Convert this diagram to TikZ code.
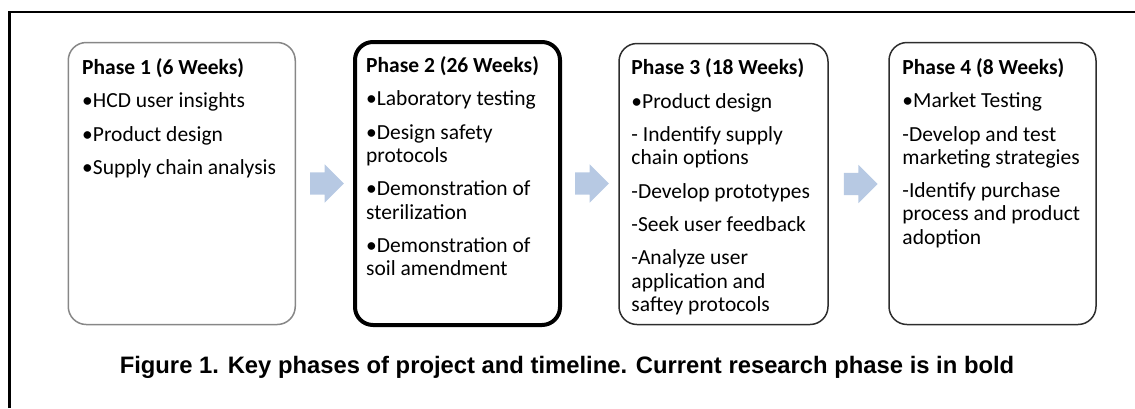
\documentclass[tikz,border=0pt]{standalone}
\usepackage{fontspec}
\setmainfont{Carlito}
\newfontfamily\capfont{Liberation Sans}
\usetikzlibrary{positioning,shapes.arrows}
\definecolor{arrowblue}{RGB}{183,201,227}
\definecolor{boxgray}{RGB}{135,135,135}
\definecolor{boxdark}{RGB}{45,45,45}
\tikzset{
	phasebox/.style={draw=boxdark, rounded corners=18pt, line width=1.5pt},
	phasetext/.style={inner sep=0pt, align=left, font=\fontsize{21.5}{23.3}\selectfont},
	blockarrow/.style={single arrow, fill=arrowblue, draw=none, inner sep=11pt,
		minimum height=32pt, single arrow head extend=8pt, single arrow head indent=0pt}
}

\begin{document}
\begin{tikzpicture}[x=1pt,y=-1pt]
	\useasboundingbox (0,0) rectangle (1135,408);
	\draw[line width=2.5pt] (9.5,408) -- (9.5,12) -- (1135,12);
	% phase boxes
	\node[phasebox, draw=boxgray, minimum width=227, minimum height=282] (p1) at (181.75,183.5) {};
	\node[phasebox, draw=black, line width=4pt, minimum width=205, minimum height=283] (p2) at (457.5,183.5) {};
	\node[phasebox, minimum width=209, minimum height=281] (p3) at (723.5,184) {};
	\node[phasebox, minimum width=207, minimum height=282] (p4) at (992.5,183.5) {};
	% texts
	\node[phasetext, below right=16.5pt and 14.5pt of p1.north west] (t1)
		{\textbf{Phase 1 (6 Weeks)}\\[10pt]
		\textbullet HCD user insights\\[10pt]
		\textbullet Product design\\[10pt]
		\textbullet Supply chain analysis};
	\node[phasetext, below right=16.5pt and 13pt of p2.north west] (t2)
		{\textbf{Phase 2 (26 Weeks)}\\[10pt]
		\textbullet Laboratory testing\\[10pt]
		\textbullet Design safety\\
		protocols\\[10pt]
		\textbullet Demonstration of\\
		sterilization\\[10pt]
		\textbullet Demonstration of\\
		soil amendment};
	\node[phasetext, below right=16pt and 13pt of p3.north west] (t3)
		{\textbf{Phase 3 (18 Weeks)}\\[10pt]
		\textbullet Product design\\[10pt]
		- Indentify supply\\
		chain options\\[10pt]
		-Develop prototypes\\[10pt]
		-Seek user feedback\\[10pt]
		-Analyze user\\
		application and\\
		saftey protocols};
	\node[phasetext, below right=16.5pt and 14pt of p4.north west] (t4)
		{\textbf{Phase 4 (8 Weeks)}\\[10pt]
		\textbullet Market Testing\\[10pt]
		-Develop and test\\
		marketing strategies\\[10pt]
		-Identify purchase\\
		process and product\\
		adoption};
	% arrows between phases
	\node[blockarrow, right=14pt of p1] (a1) {};
	\node[blockarrow, right=13pt of p2] (a2) {};
	\node[blockarrow, right=15pt of p3] (a3) {};
	% caption
	\node[font=\capfont\bfseries\fontsize{23.8}{27}\selectfont, anchor=base] (cap) at (567,373)
		{Figure 1. Key phases of project and timeline. Current research phase is in bold};
\end{tikzpicture}
\end{document}
